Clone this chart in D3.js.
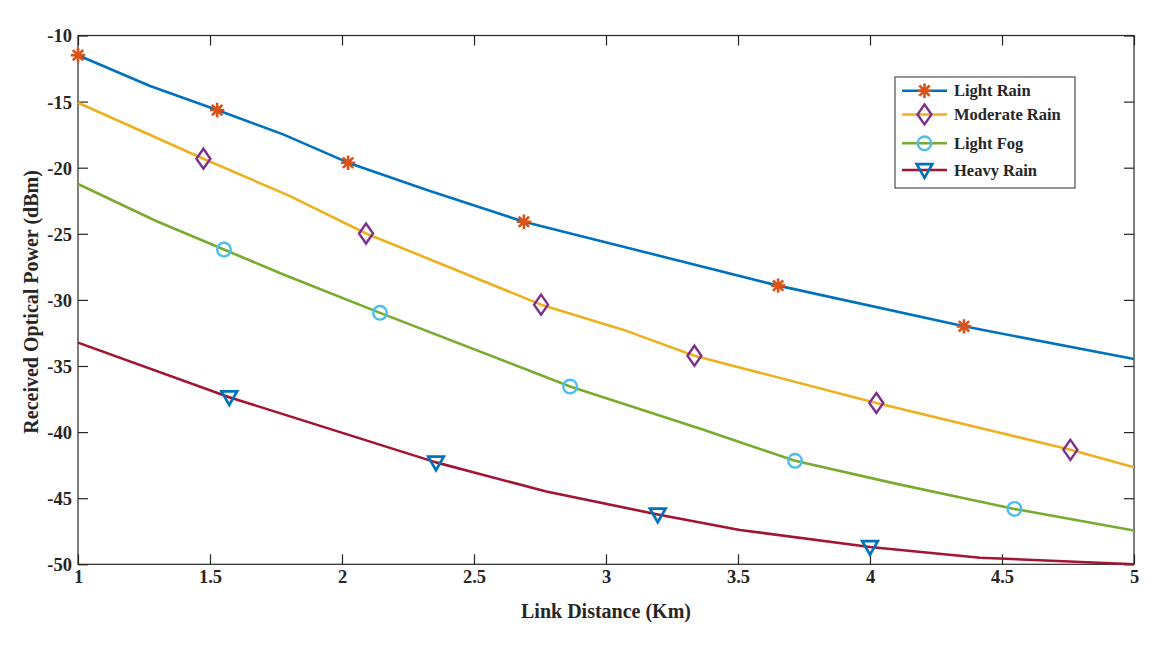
<!DOCTYPE html>
<html>
<head>
<meta charset="utf-8">
<script src="https://cdn.jsdelivr.net/npm/d3@7"></script>
<style>
  html, body { margin: 0; padding: 0; background: #fff; }
  svg { display: block; }
  text { font-family: "Liberation Serif", "Times New Roman", serif; font-weight: bold; fill: #262626; }
</style>
</head>
<body>
<svg id="chart" width="1174" height="650"></svg>
<script>
// ---- data ----
const seriesNames = ["Light Rain", "Moderate Rain", "Light Fog", "Heavy Rain"];

const lightRainX = [1.000, 1.273, 1.527, 1.777, 2.023, 2.333, 2.689, 3.652, 4.356, 5.000];
const lightRainY = [-11.49, -13.82, -15.64, -17.48, -19.62, -21.77, -24.09, -28.92, -32.00, -34.47];
const lightRainMarkers = [0, 2, 4, 6, 7, 8];

const moderateRainX = [1.000, 1.475, 1.803, 2.091, 2.397, 2.754, 3.064, 3.335, 4.024, 4.759, 5.000];
const moderateRainY = [-15.09, -19.32, -22.15, -24.98, -27.45, -30.36, -32.25, -34.22, -37.80, -41.34, -42.65];
const moderateRainMarkers = [1, 3, 5, 7, 8, 9];

const lightFogX = [1.000, 1.298, 1.553, 1.778, 2.144, 2.864, 3.369, 3.716, 4.088, 4.547, 5.000];
const lightFogY = [-21.23, -24.05, -26.19, -28.08, -30.98, -36.55, -39.83, -42.17, -43.86, -45.81, -47.45];
const lightFogMarkers = [2, 4, 5, 7, 9];

const heavyRainX = [1.000, 1.573, 2.356, 2.774, 3.196, 3.507, 4.000, 4.417, 5.000];
const heavyRainY = [-33.23, -37.36, -42.29, -44.50, -46.23, -47.40, -48.69, -49.50, -50.00];
const heavyRainMarkers = [1, 2, 4, 6];

const xTicks = [1, 1.5, 2, 2.5, 3, 3.5, 4, 4.5, 5];
const yTicks = [-10, -15, -20, -25, -30, -35, -40, -45, -50];

// ---- styles ----
const lineColors = ["#0072BD", "#EDB120", "#77AC30", "#A2142F"];
const markerColors = ["#D95319", "#7E2F8E", "#4DBEEE", "#0072BD"];
const markerTypes = ["star", "diamond", "circle", "triangle"];

const series = [
  { x: lightRainX, y: lightRainY, m: lightRainMarkers },
  { x: moderateRainX, y: moderateRainY, m: moderateRainMarkers },
  { x: lightFogX, y: lightFogY, m: lightFogMarkers },
  { x: heavyRainX, y: heavyRainY, m: heavyRainMarkers }
].map((s, i) => ({
  name: seriesNames[i],
  pts: s.x.map((xv, j) => ({ x: xv, y: s.y[j] })),
  marks: s.m.map(j => ({ x: s.x[j], y: s.y[j] })),
  color: lineColors[i], mcolor: markerColors[i], mtype: markerTypes[i]
}));

// ---- layout ----
const svg = d3.select("#chart");
const pLeft = 78, pRight = 1134, pTop = 35.5, pBottom = 564.3;
const x = d3.scaleLinear().domain([1, 5]).range([pLeft, pRight]);
const y = d3.scaleLinear().domain([-50, -10]).range([pBottom, pTop]);

const axisColor = "#262626";
const tickLen = 10;
const fmt = d => String(d); // plain hyphen-minus like the reference

// axes box
svg.append("rect")
  .attr("x", pLeft).attr("y", pTop)
  .attr("width", pRight - pLeft).attr("height", pBottom - pTop)
  .attr("fill", "none").attr("stroke", axisColor).attr("stroke-width", 1.2);

// bottom axis
const xAxisG = svg.append("g").attr("transform", `translate(0,${pBottom})`)
  .call(d3.axisBottom(x).tickValues(xTicks).tickSizeInner(-tickLen).tickSizeOuter(0)
    .tickFormat(fmt).tickPadding(16));
// left axis
const yAxisG = svg.append("g").attr("transform", `translate(${pLeft},0)`)
  .call(d3.axisLeft(y).tickValues(yTicks).tickSizeInner(-tickLen).tickSizeOuter(0)
    .tickFormat(fmt).tickPadding(6));
// top & right mirror ticks
svg.append("g").attr("transform", `translate(0,${pTop})`)
  .call(d3.axisTop(x).tickValues(xTicks).tickSizeInner(-tickLen).tickSizeOuter(0).tickFormat(""));
svg.append("g").attr("transform", `translate(${pRight},0)`)
  .call(d3.axisRight(y).tickValues(yTicks).tickSizeInner(-tickLen).tickSizeOuter(0).tickFormat(""));

svg.selectAll(".domain").remove();
svg.selectAll(".tick line").attr("stroke", axisColor).attr("stroke-width", 1.2);
svg.selectAll(".tick text")
  .attr("font-family", "Liberation Serif, serif")
  .attr("font-weight", "bold")
  .attr("font-size", 18.5)
  .attr("fill", "#262626");
xAxisG.selectAll(".tick text").attr("dy", "0.15em");
yAxisG.selectAll(".tick text").attr("dy", "0.35em");

// axis labels
svg.append("text")
  .attr("x", 606).attr("y", 618)
  .attr("text-anchor", "middle").attr("font-size", 20)
  .text("Link Distance (Km)");
svg.append("text")
  .attr("transform", `translate(38,${(pTop + pBottom) / 2 + 2}) rotate(-90)`)
  .attr("text-anchor", "middle").attr("font-size", 20)
  .text("Received Optical Power (dBm)");

// ---- marker drawing ----
function drawMarker(g, type, cx, cy, color) {
  if (type === "star") {
    const r = 7.2, d = r * 0.72;
    const p = `M${cx - r},${cy}L${cx + r},${cy}M${cx},${cy - r}L${cx},${cy + r}` +
              `M${cx - d},${cy - d}L${cx + d},${cy + d}M${cx - d},${cy + d}L${cx + d},${cy - d}`;
    g.append("path").attr("d", p).attr("stroke", color).attr("stroke-width", 2.6).attr("fill", "none");
  } else if (type === "diamond") {
    const w = 7, h = 10;
    g.append("path").attr("d", `M${cx},${cy - h}L${cx + w},${cy}L${cx},${cy + h}L${cx - w},${cy}Z`)
      .attr("stroke", color).attr("stroke-width", 2.4).attr("fill", "none");
  } else if (type === "circle") {
    g.append("circle").attr("cx", cx).attr("cy", cy).attr("r", 6.8)
      .attr("stroke", color).attr("stroke-width", 2.4).attr("fill", "none");
  } else if (type === "triangle") {
    const w = 7.8, h = 6.8;
    g.append("path").attr("d", `M${cx - w},${cy - h + 1}L${cx + w},${cy - h + 1}L${cx},${cy + h + 1}Z`)
      .attr("stroke", color).attr("stroke-width", 2.7).attr("fill", "none").attr("stroke-linejoin", "miter");
  }
}

// ---- lines ----
const line = d3.line().x(d => x(d.x)).y(d => y(d.y));
const plotG = svg.append("g");
series.forEach(s => {
  plotG.append("path").datum(s.pts)
    .attr("d", line).attr("fill", "none")
    .attr("stroke", s.color).attr("stroke-width", 2.6)
    .attr("stroke-linejoin", "round").attr("stroke-linecap", "butt");
});
series.forEach(s => {
  s.marks.forEach(p => drawMarker(plotG, s.mtype, x(p.x), y(p.y), s.mcolor));
});

// ---- legend ----
const lg = svg.append("g");
lg.append("rect").attr("x", 895).attr("y", 77).attr("width", 180).attr("height", 111)
  .attr("fill", "#fff").attr("stroke", "#5a5a5a").attr("stroke-width", 1.3);
const legendRowY = [90.7, 114.5, 143.3, 170];
series.forEach((s, i) => {
  const yy = legendRowY[i];
  lg.append("line").attr("x1", 902).attr("x2", 947).attr("y1", yy).attr("y2", yy)
    .attr("stroke", s.color).attr("stroke-width", 2.6);
  drawMarker(lg, s.mtype, 924.5, yy, s.mcolor);
  lg.append("text").attr("x", 954).attr("y", yy).attr("dy", "0.35em")
    .attr("font-size", 16.5).text(s.name);
});
</script>
</body>
</html>
